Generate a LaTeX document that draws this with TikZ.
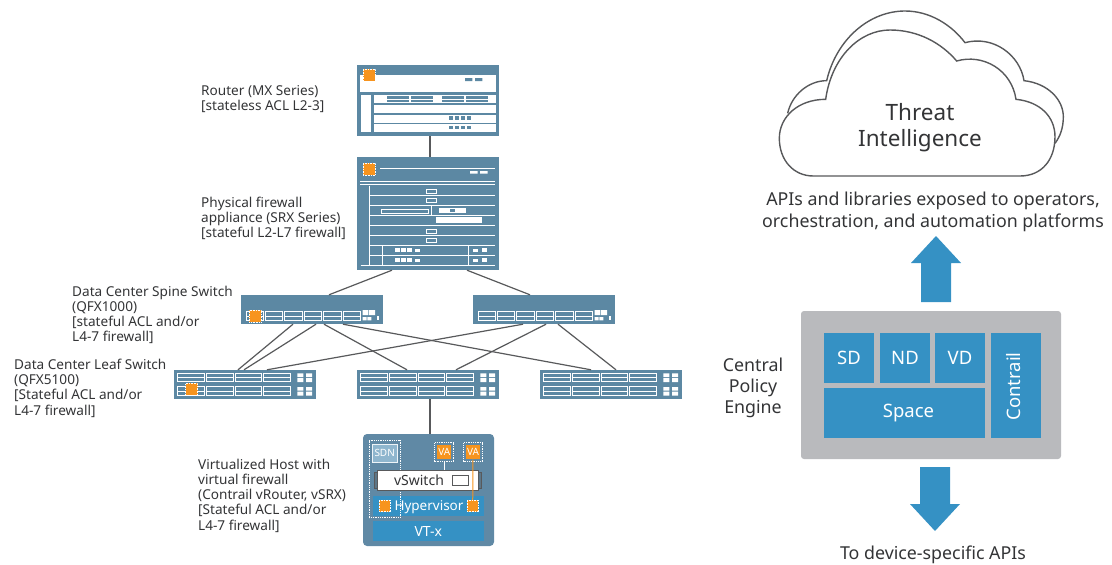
\documentclass[tikz,border=0pt]{standalone}
\usepackage{fontspec}
\setmainfont{Noto Sans}
\usetikzlibrary{positioning}
\definecolor{devblue}{HTML}{5C88A3}
\definecolor{hostblue}{HTML}{6089A5}
\definecolor{apiblue}{HTML}{3591C4}
\definecolor{agentorange}{HTML}{F7941E}
\definecolor{panelgray}{HTML}{B9BABD}
\definecolor{linegray}{HTML}{58595B}
\definecolor{txtgray}{HTML}{333436}
\definecolor{sdnblue}{HTML}{8FB6CE}
\begin{document}
\begin{tikzpicture}[x=1pt, y=-1pt]
	\tikzset{dev/.style={rectangle, fill=devblue, inner sep=0pt}};
	\tikzset{agent/.style={rectangle, fill=agentorange, draw=white, densely dotted, line width=.6pt, inner sep=0pt, minimum size=12pt}};
	\tikzset{lnk/.style={draw=linegray, line width=1.2pt}};
	\tikzset{lbl/.style={anchor=north west, align=left, inner sep=0pt, font=\fontsize{13.6}{15.3}\selectfont, text=txtgray}};
	\tikzset{captxt/.style={align=center, inner sep=0pt, font=\fontsize{17.8}{22.5}\selectfont, text=txtgray}};
	\tikzset{blk/.style={rectangle, fill=apiblue, inner sep=0pt, text=white, font=\fontsize{18.5}{18.5}\selectfont}};
	\tikzset{port/.style={draw=white, line width=1pt}};
	\tikzset{wht/.style={fill=white}};
	\tikzset{blu/.style={fill=devblue}};
	\tikzset{wln/.style={draw=white, line width=.9pt}};
	\tikzset{fwbox/.style={draw=white, line width=.8pt, fill=devblue}};

	\useasboundingbox (0,0) rectangle (1112,565);

	\node[dev, minimum width=142pt, minimum height=71pt] (router) at (428,100.5) {};
	\node[dev, minimum width=142pt, minimum height=113pt] (srx) at (428,213.5) {};
	\node[dev, minimum width=142pt, minimum height=29pt] (spinea) at (312,309.5) {};
	\node[dev, minimum width=142pt, minimum height=29pt] (spineb) at (544,309.5) {};
	\node[dev, minimum width=142pt, minimum height=29pt] (leafa) at (245,384.5) {};
	\node[dev, minimum width=142pt, minimum height=29pt] (leafb) at (428,384.5) {};
	\node[dev, minimum width=142pt, minimum height=29pt] (leafc) at (611,384.5) {};
	\node[dev, fill=hostblue, rounded corners=4pt, minimum width=131pt, minimum height=112pt] (host) at (428.5,490) {};

	\draw[lnk] ([xshift=2pt]router.south) -- ([xshift=2pt]srx.north);
	\draw[lnk] ([xshift=-36pt]srx.south) -- ([xshift=17pt]spinea.north);
	\draw[lnk] ([xshift=39pt]srx.south) -- ([xshift=-14pt]spineb.north);
	\draw[lnk] ([xshift=-19pt]spinea.south) -- ([xshift=-7pt]leafa.north);
	\draw[lnk] ([xshift=4pt]spinea.south) -- ([xshift=-1pt]leafa.north);
	\draw[lnk] ([xshift=12pt]spinea.south) -- ([xshift=-21pt]leafb.north);
	\draw[lnk] ([xshift=31pt]spinea.south) -- ([xshift=-20pt]leafc.north);
	\draw[lnk] ([xshift=-21pt]spineb.south) -- ([xshift=22pt]leafa.north);
	\draw[lnk] ([xshift=2pt]spineb.south) -- ([xshift=28pt]leafb.north);
	\draw[lnk] ([xshift=14pt]spineb.south) -- ([xshift=5pt]leafc.north);
	\draw[lnk] ([xshift=2pt]leafb.south) -- ([xshift=1.5pt]host.north);

	% router front
	\begin{scope}[shift={(340,55)}, scale=1/3]
		\fill[wht] (60,60) rectangle (468,110);
		\fill[blu] (375,69) rectangle (397,78) (405,69) rectangle (427,78);
		\fill[wht] (62,120) rectangle (92,230);
		\foreach \ry in {120,150,179,207}
			\fill[wht] (102,\ry) rectangle (467,\ry+24);
		\foreach \rx/\rw in {141/66,213/66,306/66,378/66} {
			\fill[blu] (\rx,124) rectangle ++(\rw,7);
			\fill[blu] (\rx,135) rectangle ++(\rw,6);
		}
		\foreach \ry in {190,218}
			\foreach \rx in {326,344,362,380}
				\fill[blu] (\rx,\ry-6) rectangle ++(13,11);
	\end{scope}

	% firewall front
	\begin{scope}[shift={(340,55)}, scale=1/3]
		\draw[wln] (120,341) -- (465,341);
		\fill[wht] (390,348) rectangle (413,356) (420,348) rectangle (443,356);
		\draw[wln] (60,380) -- (465,380);
		\draw[wln] (60,389) -- (465,389);
		\draw[wln] (87,392) -- (87,630);
		\foreach \ry in {420,450,480,510,540,570,600}
			\draw[wln] (87,\ry) -- (465,\ry);
		\draw[wln] (62,630) -- (465,630);
		\foreach \ry in {402,431,522,551}
			\draw[fwbox] (259,\ry) rectangle ++(31,12);
		\draw[fwbox] (125,462) rectangle (266,474);
		\draw[wln] (275,452) -- (275,480);
		\fill[wht] (297,459) rectangle (378,473);
		\fill[blu] (330,461) rectangle (345,471);
		\fill[wht] (288,486) rectangle (426,504);
		\draw[wln] (127,572) -- (127,630);
		\draw[wln] (385,572) -- (385,630);
		\foreach \ry in {579,608} {
			\foreach \rx in {165,183,201}
				\fill[wht] (\rx,\ry) rectangle ++(15,12);
			\fill[wht] (225,\ry+4) rectangle ++(15,8);
			\fill[wht] (400,\ry+4) rectangle ++(14,8);
			\fill[wht] (426,\ry) rectangle ++(15,12);
		}
	\end{scope}

	% spine ports
	\foreach \sx in {241,473} {
		\begin{scope}[shift={(\sx,295)}, scale=1/3]
			\foreach \px in {15,73,131,189,248,306} {
				\draw[port] (\px,50) rectangle ++(52,26);
				\draw[port] (\px,63) -- ++(52,0);
			}
			\fill[wht] (365,45) rectangle ++(17,15) (384,45) rectangle ++(18,15);
			\fill[wht] (365,66) rectangle ++(12,10) (379,66) rectangle ++(12,10);
			\fill[wht] (408,63) rectangle ++(6,11);
		\end{scope}
	}

	% leaf ports
	\foreach \lx in {174,357,540} {
		\begin{scope}[shift={(\lx,370)}, scale=1/3]
			\foreach \py in {9,50} {
				\foreach \px in {11,97,183,269} {
					\draw[port] (\px,\py) rectangle ++(80,26);
					\draw[port] (\px,\py+13) -- ++(80,0);
				}
				\fill[wht] (370,\py+1) rectangle ++(18,11) (396,\py+1) rectangle ++(18,11);
				\fill[wht] (370,\py+15) rectangle ++(18,12) (396,\py+15) rectangle ++(18,12);
			}
		\end{scope}
	}

	\node[agent] (fwrouter) at (369,75.3) {};
	\node[agent] (fwsrx) at (369,169.3) {};
	\node[agent] (fwspine) at (255.3,315.8) {};
	\node[agent] (fwleaf) at (191.5,389.3) {};

	% virtualized host
	\node[blk, minimum width=111pt, minimum height=20.5pt] (hyper) at (428.3,506) {};
	\node[blk, minimum width=111pt, minimum height=20pt, font=\fontsize{14}{14}\selectfont] (vtx) at (428.3,531) {VT-x};
	\node[rectangle, draw=white, densely dotted, line width=.8pt, inner sep=0pt, minimum width=31pt, minimum height=77pt] (sdngrp) at (384.7,479) {};
	\node[rectangle, fill=sdnblue, draw=white!85!sdnblue, line width=.7pt, inner sep=0pt, minimum width=24.5pt, minimum height=18pt, text=white, font=\fontsize{10}{10}\selectfont] (sdn) at (384.7,453) {SDN};
	\node[rectangle, fill=linegray!40!hostblue, draw=linegray, line width=1pt, minimum width=107pt, minimum height=16pt, inner sep=0pt] (vsends) at (428.3,480.5) {};
	\node[rectangle, fill=white, draw=linegray, line width=1pt, inner sep=0pt, minimum width=100.5pt, minimum height=20pt] (vswitch) at (428,480.7) {};
	\node[inner sep=0pt, text=txtgray, font=\fontsize{14}{14}\selectfont] (vsw) at (419,480.7) {vSwitch};
	\node[rectangle, fill=white, draw=linegray, line width=.9pt, inner sep=0pt, minimum width=16pt, minimum height=10pt] (vport) at (460.3,480.7) {};
	\node[inner sep=0pt, text=white, font=\fontsize{13.5}{13.5}\selectfont] (hyv) at (429,507) {Hypervisor};
	\node[agent, minimum size=11.5pt] (fwhypa) at (384.7,506) {};
	\node[agent, minimum size=11.5pt] (fwhypb) at (472.7,506) {};
	\node[rectangle, draw=white, densely dotted, line width=.8pt, inner sep=0pt, minimum width=19pt, minimum height=19pt] (vaaout) at (444.3,452.3) {};
	\node[rectangle, draw=white, densely dotted, line width=.8pt, inner sep=0pt, minimum width=19pt, minimum height=19pt] (vabout) at (473,452.3) {};
	\node[rectangle, fill=agentorange, inner sep=0pt, minimum size=14pt, text=white, font=\fontsize{10}{10}\selectfont] (vaa) at (444.3,452.3) {VA};
	\node[rectangle, fill=agentorange, inner sep=0pt, minimum size=14pt, text=white, font=\fontsize{10}{10}\selectfont] (vab) at (473,452.3) {VA};
	\draw[draw=white, line width=1pt] (vaaout.south -| vaa) -- (vaa |- vswitch.north);
	\draw[draw=agentorange, line width=1pt] (vab) -- (fwhypb);

	% device labels
	\node[lbl] (lrouter) at (201,85) {Router (MX Series)\\{[}stateless ACL L2-3]};
	\node[lbl] (lsrx) at (201,196.5) {Physical firewall\\appliance (SRX Series)\\{[}stateful L2-L7 firewall]};
	\node[lbl] (lspine) at (72,285.5) {Data Center Spine Switch\\(QFX1000)\\{[}stateful ACL and/or\\L4-7 firewall]};
	\node[lbl] (lleaf) at (14,358.5) {Data Center Leaf Switch\\(QFX5100)\\{[}Stateful ACL and/or\\L4-7 firewall]};
	\node[lbl] (lhost) at (198,458.5) {Virtualized Host with\\virtual firewall\\(Contrail vRouter, vSRX)\\{[}Stateful ACL and/or\\L4-7 firewall]};

	% cloud
	\begin{scope}[shift={(720,0)}, scale=1/3]
		\draw[draw=linegray, line width=1.4pt, fill=white]
			(203,340) .. controls (215,285) and (265,242) .. (320,242)
			.. controls (350,115) and (450,33) .. (555,33)
			.. controls (630,33) and (695,75) .. (735,128)
			.. controls (820,105) and (900,165) .. (912,242)
			.. controls (985,250) and (1030,300) .. (1030,350)
			.. controls (1030,385) and (1020,410) .. (1005,430);
		\draw[draw=linegray, line width=1.4pt, fill=white]
			(280,528) .. controls (220,528) and (178,480) .. (178,415)
			.. controls (178,350) and (235,298) .. (317,298)
			.. controls (335,170) and (420,90) .. (510,90)
			.. controls (595,90) and (665,130) .. (710,183)
			.. controls (790,160) and (875,210) .. (888,298)
			.. controls (960,305) and (1005,350) .. (1005,410)
			.. controls (1005,480) and (965,528) .. (900,528) -- cycle;
	\end{scope}
	\node[captxt, font=\fontsize{22.5}{26.5}\selectfont] (threat) at (920,127.5) {Threat\\Intelligence};
	\node[captxt] (apis) at (933,212) {APIs and libraries exposed to operators,\\orchestration, and automation platforms};

	% policy engine
	\node[rectangle, fill=panelgray, rounded corners=3pt, inner sep=0pt, minimum width=260pt, minimum height=148pt] (engine) at (931,385) {};
	\node[blk, minimum size=50pt] (sd) at (849,358) {SD};
	\node[blk, minimum size=50pt] (nd) at (905,358) {ND};
	\node[blk, minimum size=50pt] (vd) at (960,358) {VD};
	\node[blk, minimum width=161pt, minimum height=50pt] (space) at (904.5,413) {\hspace*{8pt}\raisebox{-2pt}{Space}};
	\node[blk, minimum width=50pt, minimum height=105pt] (ctrl) at (1016,385.5) {};
	\node[rotate=90, inner sep=0pt, text=white, font=\fontsize{18.5}{18.5}\selectfont] (ctrltxt) at (1014,386.5) {Contrail};
	\node[captxt, font=\fontsize{17.8}{21}\selectfont] (central) at (753,388) {Central\\Policy\\Engine};
	\node[captxt] (toapi) at (933,554.5) {To device-specific APIs};

	\coordinate (upbase) at (936,302);
	\coordinate (dnbase) at (935,467);
	\fill[apiblue] (upbase) ++(-15,0) -- ++(0,-39) -- ++(-10,0) -- ++(25,-27) -- ++(25,27) -- ++(-10,0) -- ++(0,39) -- cycle;
	\fill[apiblue] (dnbase) ++(-15,0) -- ++(0,37) -- ++(-10,0) -- ++(25,27) -- ++(25,-27) -- ++(-10,0) -- ++(0,-37) -- cycle;
\end{tikzpicture}
\end{document}
